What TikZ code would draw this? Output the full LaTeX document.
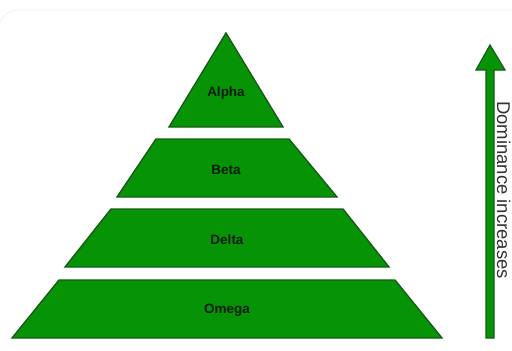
\documentclass[tikz,border=0pt]{standalone}
\usepackage{fontspec}
\setmainfont{Liberation Sans}
\definecolor{tierfill}{RGB}{6,148,6}
\definecolor{tieredge}{RGB}{22,92,22}
\definecolor{labelink}{RGB}{8,28,8}
\definecolor{frameline}{RGB}{240,240,240}
\begin{document}
\begin{tikzpicture}[x=1pt,y=-1pt,
  tier/.style={fill=tierfill,draw=tieredge,line width=1.4pt,line join=miter},
  tierlabel/.style={font=\fontsize{13.5}{15}\selectfont\bfseries,text=labelink,inner sep=0pt},
  sidelabel/.style={font=\fontsize{18.5}{21}\selectfont,text=black!80,inner sep=0pt}]
  \useasboundingbox (0,0) rectangle (512,351);
  \fill[white] (0,0) rectangle (512,351);
  % faint page frame
  \draw[frameline,line width=0.8pt] (0,22) .. controls (4,14) and (10,10) .. (20,10) -- (512,10);

  % pyramid tiers, top to bottom
  \draw[tier] (226,33) -- (283,127) -- (169,127) -- cycle;
  \draw[tier] (156,139) -- (289,139) -- (337,197) -- (117,197) -- cycle;
  \draw[tier] (111,209) -- (343,209) -- (389,267) -- (65,267) -- cycle;
  \draw[tier] (59,280) -- (395,280) -- (442,338) -- (12,338) -- cycle;

  \node[tierlabel] (alpha) at (226,93) {Alpha};
  \node[tierlabel] (beta)  at (226,170) {Beta};
  \node[tierlabel] (delta) at (227,240) {Delta};
  \node[tierlabel] (omega) at (227,310) {Omega};

  % dominance arrow
  \draw[tier,line width=1.2pt] (486,338) -- (486,70) -- (476,70) -- (490,45)
    -- (505,70) -- (494,70) -- (494,338) -- cycle;
  \node[sidelabel,rotate=-90,anchor=base west] (dom) at (497,101) {Dominance increases};
\end{tikzpicture}
\end{document}
